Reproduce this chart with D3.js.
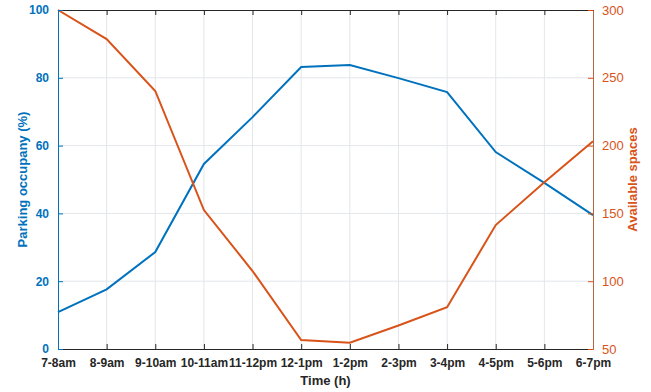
<!DOCTYPE html>
<html>
<head>
<meta charset="utf-8">
<script src="https://cdn.jsdelivr.net/npm/d3@7"></script>
<style>
  html, body { margin: 0; padding: 0; background: #fff; }
  svg { display: block; font-family: "Liberation Sans", Arial, sans-serif; }
</style>
</head>
<body>
<script>
// Hourly time slots
const timeSlots = ["7-8am", "8-9am", "9-10am", "10-11am", "11-12pm", "12-1pm",
                   "1-2pm", "2-3pm", "3-4pm", "4-5pm", "5-6pm", "6-7pm"];
// Parking occupancy (%) per slot
const occupancy = [10.9, 17.6, 28.6, 54.6, 68.4, 83.2, 83.8, 79.9, 75.8, 58.1, 49.0, 39.5];
// Available parking spaces per slot
const availableSpaces = [300, 278.6, 240.3, 152.5, 107.5, 56.6, 54.6, 67.3, 80.8, 141.4, 173, 203.2];
// Tick labels
const occupancyTicks = [0, 20, 40, 60, 80, 100];
const spacesTicks = [50, 100, 150, 200, 250, 300];

const W = 651, H = 392;
const margin = { left: 58, right: 58, top: 10, bottom: 43 };
const blue = "#0072BD", orange = "#D95319";

const svg = d3.select("body").append("svg").attr("width", W).attr("height", H);

const x = d3.scalePoint().domain(timeSlots).range([margin.left, W - margin.right]);
const yL = d3.scaleLinear().domain([0, 100]).range([H - margin.bottom, margin.top]);
const yR = d3.scaleLinear().domain([50, 300]).range([H - margin.bottom, margin.top]);

const x0 = margin.left, x1 = W - margin.right, y0 = H - margin.bottom, y1 = margin.top;

// Grid
const grid = svg.append("g").attr("stroke", "#e3e6ea").attr("stroke-width", 1);
grid.selectAll(".gx").data(timeSlots.slice(1, -1)).join("line")
  .attr("x1", d => x(d)).attr("x2", d => x(d)).attr("y1", y0).attr("y2", y1);
grid.selectAll(".gy").data(occupancyTicks.slice(1, -1)).join("line")
  .attr("x1", x0).attr("x2", x1).attr("y1", d => yL(d)).attr("y2", d => yL(d));

// Lines
const lineOcc = d3.line().x((d, i) => x(timeSlots[i])).y(d => yL(d));
const lineSp = d3.line().x((d, i) => x(timeSlots[i])).y(d => yR(d));
svg.append("path").datum(occupancy).attr("d", lineOcc)
  .attr("fill", "none").attr("stroke", blue).attr("stroke-width", 2);
svg.append("path").datum(availableSpaces).attr("d", lineSp)
  .attr("fill", "none").attr("stroke", orange).attr("stroke-width", 2);

// Bottom axis
const gB = svg.append("g").attr("transform", `translate(0,${y0})`)
  .call(d3.axisBottom(x).tickSize(-5).tickPadding(9).tickSizeOuter(0));
gB.select(".domain").attr("stroke", "#262626");
gB.selectAll(".tick line").attr("stroke", "#262626");
gB.selectAll("text").attr("fill", "#262626").style("font-size", "12px").style("font-weight", "bold");

// Top axis (box)
const gT = svg.append("g").attr("transform", `translate(0,${y1})`)
  .call(d3.axisTop(x).tickSize(-5).tickFormat("").tickSizeOuter(0));
gT.select(".domain").attr("stroke", "#262626");
gT.selectAll(".tick line").attr("stroke", "#262626");

// Left axis
const gL = svg.append("g").attr("transform", `translate(${x0},0)`)
  .call(d3.axisLeft(yL).tickValues(occupancyTicks).tickSize(-5).tickPadding(9).tickSizeOuter(0));
gL.select(".domain").attr("stroke", blue);
gL.selectAll(".tick line").attr("stroke", blue);
gL.selectAll("text").attr("fill", blue).style("font-size", "12px").style("font-weight", "bold");

// Right axis
const gR = svg.append("g").attr("transform", `translate(${x1},0)`)
  .call(d3.axisRight(yR).tickValues(spacesTicks).tickSize(-5).tickPadding(9).tickSizeOuter(0));
gR.select(".domain").attr("stroke", "#b8653f");
gR.selectAll(".tick line").attr("stroke", orange);
gR.selectAll("text").attr("fill", orange).style("font-size", "13px");

// Axis titles
svg.append("text").attr("x", (x0 + x1) / 2).attr("y", 385)
  .attr("text-anchor", "middle").attr("fill", "#262626")
  .style("font-size", "13px").style("font-weight", "bold").text("Time (h)");
svg.append("text").attr("transform", `translate(27,${(y0 + y1) / 2}) rotate(-90)`)
  .attr("text-anchor", "middle").attr("fill", blue)
  .style("font-size", "13px").style("font-weight", "bold").text("Parking occupany (%)");
svg.append("text").attr("transform", `translate(637,${(y0 + y1) / 2}) rotate(-90)`)
  .attr("text-anchor", "middle").attr("fill", orange)
  .style("font-size", "13px").style("font-weight", "bold").text("Available spaces");
</script>
</body>
</html>
